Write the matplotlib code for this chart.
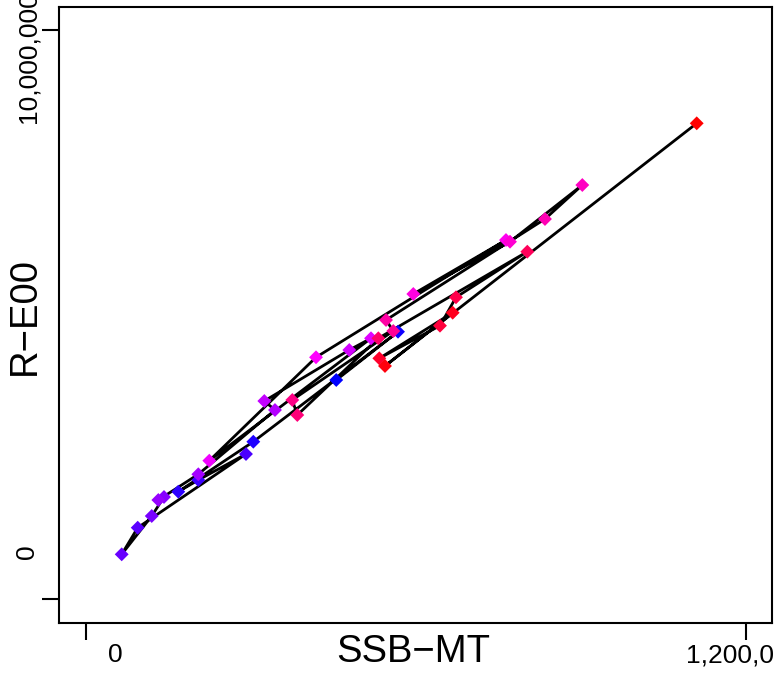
import numpy as np
import matplotlib.pyplot as plt
from matplotlib.colors import LinearSegmentedColormap

# stock-recruitment pairs, ordered by year
year = np.arange(1980, 2015)
ssb = [455000, 567300, 304200, 167800, 204200, 290900, 94000, 64900, 119500, 141800,
       131500, 204200, 343600, 324200, 478700, 518200, 224200, 418200, 763600, 595100,
       770900, 902400, 834500, 545500, 558700, 375100, 384200, 531500, 802400, 672700,
       643600, 533300, 666700, 543600, 1110400]
rec = [3852000, 4700000, 2768000, 1890000, 2095000, 2552000, 1258000, 790000, 1463000, 1797000,
       1744000, 2196000, 3325000, 3483000, 4379000, 4585000, 2435000, 4251000, 6311000, 5363000,
       6281000, 7277000, 6680000, 4906000, 4713000, 3501000, 3237000, 4585000, 6106000, 5305000,
       4806000, 4233000, 5034000, 4098000, 8361000]

xticks = [0, 1200000]
xtick_labels = ['0', '1,200,000']
yticks = [0, 10000000]
ytick_labels = ['0', '10,000,000']

plt.rcParams['font.family'] = ['Liberation Sans', 'DejaVu Sans']

fig = plt.figure(figsize=(7.75, 6.73), dpi=100)
ax = fig.add_axes([59.3 / 775, 1 - 623 / 673, (771.7 - 59.3) / 775, (623 - 7.3) / 673])

cmap = LinearSegmentedColormap.from_list('bmr', ['blue', 'magenta', 'red'])
t = (year - year.min()) / (year.max() - year.min())

ax.plot(ssb, rec, color='black', lw=2.0, solid_joinstyle='round', zorder=2)
ax.scatter(ssb, rec, marker='D', s=50, c=cmap(t), edgecolors='none', zorder=3)

ax.set_xlim(-48545, 1246727)
ax.set_ylim(-416300, 10398700)

for sp in ax.spines.values():
    sp.set_linewidth(1.5)

ax.set_xticks(xticks)
ax.set_yticks(yticks)
ax.set_xticklabels([])
ax.set_yticklabels([])
ax.tick_params(length=12, width=1.5, direction='out')

# tick labels sit a little off their ticks in the original
x_offsets = [(29, -32), (-1, -32)]
for v, lab, off in zip(xticks, xtick_labels, x_offsets):
    ax.annotate(lab, xy=(v, 0), xycoords=('data', 'axes fraction'), xytext=off,
                textcoords='offset pixels', ha='center', va='center', fontsize=19,
                annotation_clip=False)
y_offsets = [(-32, 48), (-31, -27)]
for v, lab, off in zip(yticks, ytick_labels, y_offsets):
    ax.annotate(lab, xy=(0, v), xycoords=('axes fraction', 'data'), xytext=off,
                textcoords='offset pixels', ha='center', va='center', fontsize=19,
                rotation=90, annotation_clip=False)

fig.text(413.5 / 775, 1 - 652 / 673, 'SSB\u2212MT', fontsize=27.5, ha='center', va='center')
fig.text(25 / 775, 1 - 316 / 673, 'R\u2212E00', fontsize=27.5, ha='center', va='center', rotation=90)

plt.savefig('out.png', dpi=100)
